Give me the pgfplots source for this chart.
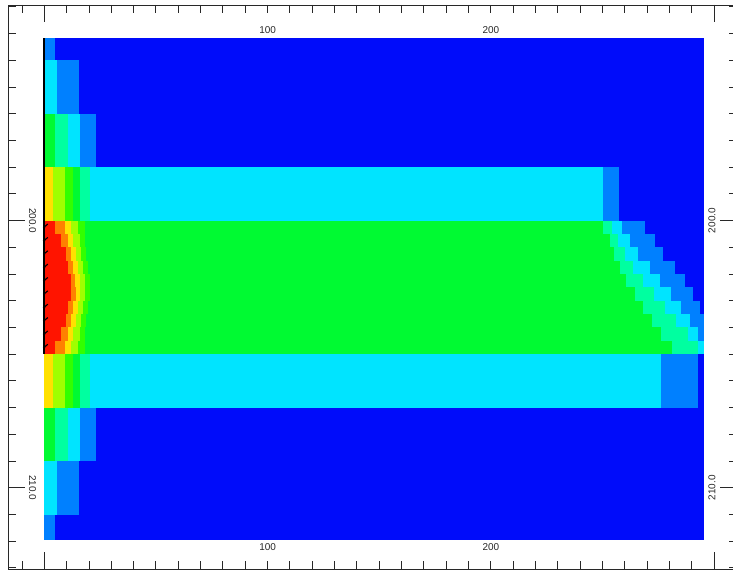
\documentclass[border=0pt]{standalone}
\usepackage{fontspec}
\setmainfont{Liberation Sans}
\usepackage{pgfplots}
\pgfplotsset{compat=1.18}
\definecolor{cDark}{RGB}{0,12,250}
\definecolor{cMed}{RGB}{0,128,255}
\definecolor{cCyan}{RGB}{0,228,255}
\definecolor{cAqua}{RGB}{0,255,160}
\definecolor{cGreen}{RGB}{0,250,50}
\definecolor{cLime}{RGB}{50,255,0}
\definecolor{cYG}{RGB}{160,255,0}
\definecolor{cYellow}{RGB}{255,225,0}
\definecolor{cOrange}{RGB}{255,128,0}
\definecolor{cRed}{RGB}{255,20,0}
\definecolor{cAxis}{RGB}{40,40,40}
\pgfdeclareplotmark{welltick}{%
  \pgfsetlinewidth{1.1pt}%
  \pgfpathmoveto{\pgfqpoint{-1.8pt}{-1.4pt}}%
  \pgfpathlineto{\pgfqpoint{2.2pt}{1.9pt}}%
  \pgfusepathqstroke
  \pgfpathcircle{\pgfqpoint{-1.5pt}{-1.3pt}}{1.3pt}%
  \pgfusepathqfill
}
\newcommand{\cell}[4]{\addplot[draw=none, fill=#4, forget plot] coordinates {(0,#1) (#3,#1) (#3,#2) (0,#2)} -- cycle;}
\newcommand{\rightrow}[6]{%
  \cell{#1}{#2}{#3}{cMed}%
  \cell{#1}{#2}{#4}{cCyan}%
  \cell{#1}{#2}{#5}{cAqua}%
  \cell{#1}{#2}{#6}{cGreen}}
\newcommand{\leftrow}[7]{%
  \cell{#1}{#2}{#3}{cLime}%
  \cell{#1}{#2}{#4}{cYG}%
  \cell{#1}{#2}{#5}{cYellow}%
  \cell{#1}{#2}{#6}{cOrange}%
  \cell{#1}{#2}{#7}{cRed}}
\begin{document}
\begin{tikzpicture}
\useasboundingbox (0,0) rectangle (733bp,574bp);
\begin{axis}[
  at={(8bp,5bp)}, anchor=south west,
  scale only axis, width=729bp, height=564bp,
  xmin=-16.25, xmax=310.2, ymin=191.93, ymax=213.04,
  y dir=reverse,
  axis line style={draw=cAxis, line width=0.9pt},
  tick style={draw=cAxis, line width=0.9pt},
  tick align=inside,
  xtick pos=both, ytick pos=both,
  major tick length=8bp,
  xtick={-10,0,...,300},
  ytick={192,193,...,213},
  xticklabels={}, yticklabels={},
  extra x ticks={0,300}, extra x tick labels={},
  extra y ticks={200,210}, extra y tick labels={},
  extra tick style={major tick length=17bp},
  clip=true,
]
% background
\cell{193.15}{211.95}{295.6}{cDark}
% layer 193-194
\cell{193.15}{194}{4.8}{cMed}
% layer 194-196
\cell{194}{196}{15.6}{cMed}
\cell{194}{196}{5.5}{cCyan}
% layer 196-198
\cell{196}{198}{23.1}{cMed}
\cell{196}{198}{15.9}{cCyan}
\cell{196}{198}{10.7}{cAqua}
\cell{196}{198}{4.8}{cGreen}
% layer 198-200
\cell{198}{200}{257.5}{cMed}
\cell{198}{200}{250.3}{cCyan}
\cell{198}{200}{20.3}{cAqua}
\cell{198}{200}{15.9}{cGreen}
\cell{198}{200}{12.9}{cLime}
\cell{198}{200}{9.1}{cYG}
\cell{198}{200}{3.9}{cYellow}
% reservoir 200-205 sublayers
\rightrow{200}{200.5}{269.0}{258.7}{254.2}{250.2}
\rightrow{200.5}{201}{273.5}{262.3}{256.9}{253.3}
\rightrow{201}{201.5}{277.1}{265.9}{260.0}{255.1}
\rightrow{201.5}{202}{282.4}{271.3}{263.6}{257.8}
\rightrow{202}{202.5}{286.9}{275.7}{268.1}{260.5}
\rightrow{202.5}{203}{290.5}{280.7}{273.0}{264.5}
\rightrow{203}{203.5}{293.6}{285.1}{277.9}{268.1}
\rightrow{203.5}{204}{295.6}{289.2}{282.8}{272.1}
\rightrow{204}{204.5}{295.6}{292.7}{288.2}{276.2}
\rightrow{204.5}{205}{295.6}{295.6}{292.7}{281.1}
\leftrow{200}{200.5}{18.09}{15.09}{12.09}{9.14}{4.66}
\leftrow{200.5}{201}{18.09}{15.85}{12.85}{10.62}{7.61}
\leftrow{201}{201.5}{18.81}{16.57}{14.33}{12.09}{9.85}
\leftrow{201.5}{202}{19.57}{17.33}{15.09}{12.85}{10.62}
\leftrow{202}{202.5}{20.33}{18.09}{15.85}{13.88}{12.09}
\leftrow{202.5}{203}{20.33}{18.23}{15.99}{14.33}{12.09}
\leftrow{203}{203.5}{19.57}{17.33}{15.09}{12.85}{10.62}
\leftrow{203.5}{204}{18.81}{16.57}{14.33}{12.09}{9.85}
\leftrow{204}{204.5}{18.09}{15.85}{12.85}{10.62}{7.61}
\leftrow{204.5}{205}{18.09}{15.09}{12.09}{9.14}{4.66}
% layer 205-207
\cell{205}{207}{292.7}{cMed}
\cell{205}{207}{276.2}{cCyan}
\cell{205}{207}{20.3}{cAqua}
\cell{205}{207}{15.9}{cGreen}
\cell{205}{207}{12.9}{cLime}
\cell{205}{207}{9.1}{cYG}
\cell{205}{207}{3.9}{cYellow}
% layer 207-209
\cell{207}{209}{23.1}{cMed}
\cell{207}{209}{15.9}{cCyan}
\cell{207}{209}{10.7}{cAqua}
\cell{207}{209}{4.8}{cGreen}
% layer 209-211
\cell{209}{211}{15.6}{cMed}
\cell{209}{211}{5.5}{cCyan}
% layer 211-212
\cell{211}{211.95}{4.8}{cMed}
% well
\addplot[draw=none, fill=black, forget plot] coordinates {(-0.6,193.15) (0.45,193.15) (0.45,205) (-0.6,205)} -- cycle;
\addplot[only marks, mark=welltick, black, forget plot] coordinates {
 (0.6,200.2) (0.6,200.7) (0.6,201.2) (0.6,201.7) (0.6,202.2)
 (0.6,202.7) (0.6,203.2) (0.6,203.7) (0.6,204.2) (0.6,204.7)};
% labels
\begin{scope}[every node/.style={font=\fontsize{10}{12}\selectfont, text=cAxis, inner sep=0pt}]
\node at (axis cs:100,192.87) {100};
\node at (axis cs:200,192.87) {200};
\node at (axis cs:100,212.22) {100};
\node at (axis cs:200,212.22) {200};
\node[rotate=-90] at (axis cs:-5.3,200) {200.0};
\node[rotate=-90] at (axis cs:-5.3,210) {210.0};
\node[rotate=90] at (axis cs:299,200) {200.0};
\node[rotate=90] at (axis cs:299,210) {210.0};
\end{scope}
\end{axis}
\end{tikzpicture}
\end{document}
